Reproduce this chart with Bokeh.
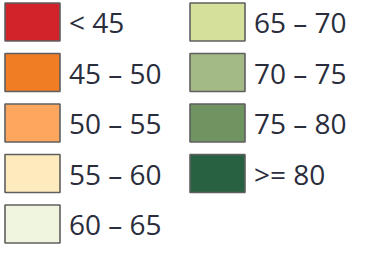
from bokeh.plotting import figure
from bokeh.models import Range1d, ColumnDataSource
from bokeh.core.properties import value
from bokeh.embed import file_html
from bokeh.resources import INLINE

labels = ["< 45", "45 – 50", "50 – 55", "55 – 60", "60 – 65",
          "65 – 70", "70 – 75", "75 – 80", ">= 80"]
colors = ["#d2232b", "#f07c23", "#fca65e", "#feebbd", "#eff5de",
          "#d5e09b", "#a4ba86", "#6f9461", "#286142"]

W, H = 349, 246
p = figure(width=W, height=H, output_backend="svg", toolbar_location=None,
           x_range=Range1d(0, W), y_range=Range1d(H, 0), min_border=0)
p.axis.visible = False
p.grid.visible = False
p.outline_line_color = None
p.background_fill_color = "white"

per_col = 5
col_x = [32, 217]
text_dx = 36.5
row0, pitch = 21.5, 50.5
xs, ys, tx, ty = [], [], [], []
for i in range(len(labels)):
    c, r = divmod(i, per_col)
    xs.append(col_x[c]); ys.append(row0 + r * pitch)
    tx.append(col_x[c] + text_dx); ty.append(row0 + r * pitch)

src = ColumnDataSource(dict(x=xs, y=ys, tx=tx, ty=ty, label=labels, color=colors))
p.rect(x="x", y="y", width=55, height=38, fill_color="color",
       line_color="#5f5f5f", line_width=1.6, source=src)
p.text(x="tx", y="ty", text="label", text_font=value("Open Sans"),
       text_font_size="28px", text_color="#2a2d3c", text_baseline="middle",
       text_align="left", source=src)

open("out.html", "w").write(file_html(p, INLINE))
